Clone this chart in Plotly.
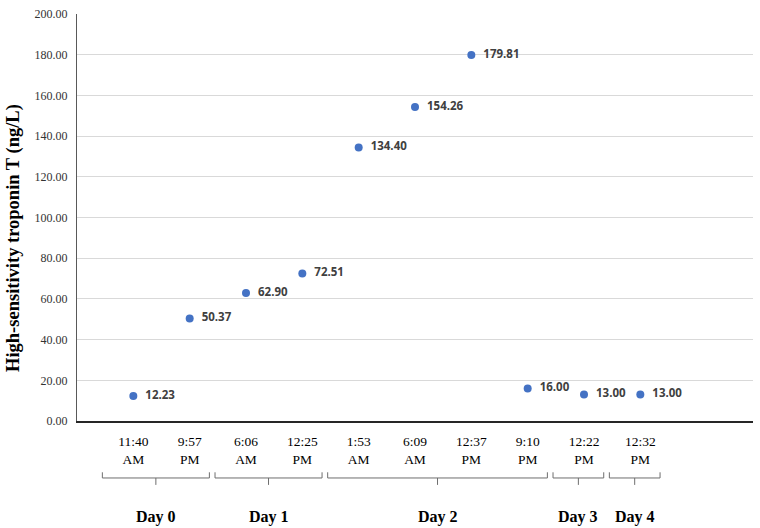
import plotly.graph_objects as go

# ---- data ----
time_labels = ["11:40<br>AM", "9:57<br>PM", "6:06<br>AM", "12:25<br>PM", "1:53<br>AM",
               "6:09<br>AM", "12:37<br>PM", "9:10<br>PM", "12:22<br>PM", "12:32<br>PM"]
troponin = [12.23, 50.37, 62.90, 72.51, 134.40, 154.26, 179.81, 16.00, 13.00, 13.00]
day_names = ["Day 0", "Day 1", "Day 2", "Day 3", "Day 4"]
day_first = [1, 3, 5, 9, 10]   # first sample index (1-based) of each day
day_last = [2, 4, 8, 9, 10]    # last sample index of each day
y_ticks = [0, 20, 40, 60, 80, 100, 120, 140, 160, 180, 200]
y_title = "High-sensitivity troponin T (ng/L)"

x_pos = list(range(1, len(troponin) + 1))

fig = go.Figure()
fig.add_trace(go.Scatter(
    x=x_pos, y=troponin, mode="markers+text",
    marker=dict(color="#4472C4", size=8),
    text=["  %.2f" % v for v in troponin],
    textposition="middle right",
    textfont=dict(family="Open Sans", size=11.5, color="#404040", weight="bold"),
    cliponaxis=False, showlegend=False, hoverinfo="skip",
))

# brackets and day labels
yb_top, yb_bar, yb_tick, y_lab = -0.126, -0.140, -0.157, -0.232
for name, a, b in zip(day_names, day_first, day_last):
    x0 = a - 0.55
    x1 = b + 0.35
    xm = (x0 + x1) / 2
    path = (f"M {x0},{yb_top} L {x0},{yb_bar} L {x1},{yb_bar} L {x1},{yb_top} "
            f"M {xm},{yb_bar} L {xm},{yb_tick}")
    fig.add_shape(type="path", path=path, xref="x", yref="paper",
                  line=dict(color="#6e6e6e", width=1))
    fig.add_annotation(x=xm, y=y_lab, xref="x", yref="paper", text="<b>%s</b>" % name,
                       showarrow=False, font=dict(family="Liberation Serif", size=16, color="black"),
                       xanchor="center", yanchor="middle", yshift=-2)

# y-axis title
fig.add_annotation(x=-0.093, y=0.45, xref="paper", yref="paper", text="<b>%s</b>" % y_title,
                   textangle=-90, showarrow=False,
                   font=dict(family="Liberation Serif", size=18.5, color="black"),
                   xanchor="center", yanchor="middle")

fig.update_layout(
    width=760, height=528,
    margin=dict(l=77, r=7, t=7, b=107),
    paper_bgcolor="white", plot_bgcolor="white",
    xaxis=dict(range=[0, 12], tickvals=x_pos, ticktext=time_labels,
               showgrid=False, zeroline=False, showline=True, linecolor="#262626", linewidth=1.5,
               ticks="", tickfont=dict(family="Liberation Serif", size=13.5, color="black"),
               ticklabelstandoff=7),
    yaxis=dict(range=[0, 200], tickvals=y_ticks, ticktext=["%.2f" % v for v in y_ticks],
               showgrid=True, gridcolor="#d9d9d9", gridwidth=1, zeroline=False,
               showline=True, linecolor="#595959", linewidth=1,
               ticks="", tickfont=dict(family="Liberation Serif", size=12, color="#333333"),
               ticklabelstandoff=6),
)

fig.write_html("out.html")
